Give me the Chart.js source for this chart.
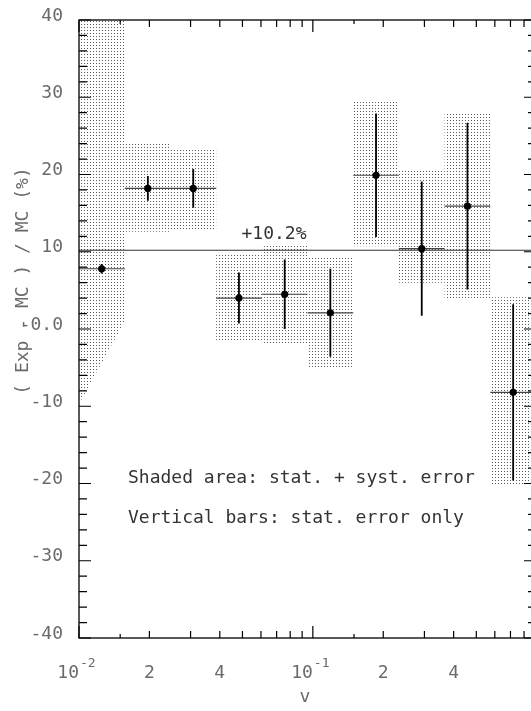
<!DOCTYPE html>
<html><head><meta charset="utf-8">
<style>html,body{margin:0;padding:0;background:#fff;overflow:hidden;width:531px;height:711px}canvas{display:block}</style>
<script src="https://cdn.jsdelivr.net/npm/chart.js@4.4.1/dist/chart.umd.min.js"></script>
</head><body><canvas id="c" width="540" height="711"></canvas>
<script>
// ---- data ----
const binEdges   = [0.01, 0.0157, 0.0246, 0.0386, 0.0605, 0.0949, 0.1488, 0.2333, 0.3659, 0.5739, 0.9];
const binCenters = [0.0125, 0.0197, 0.0308, 0.0483, 0.0758, 0.1188, 0.1863, 0.2922, 0.4582, 0.7187];
const values     = [7.8, 18.2, 18.2, 4.0, 4.5, 2.1, 19.9, 10.4, 15.9, -8.2];
const statErr    = [0.6, 1.6, 2.5, 3.3, 4.5, 5.7, 8.0, 8.7, 10.8, 11.4];
const shadeHighL = [46, 24.1, 23.4, 9.6, 11.0, 9.4, 29.4, 20.7, 28.1, 4.1];
const shadeHighR = [46, 24.1, 23.4, 9.6, 11.0, 9.4, 29.4, 20.7, 28.1, 4.1];
const shadeLowL  = [-9.7, 12.6, 12.7, -1.6, -2.0, -5.0, 10.7, 6.0, 3.8, -20.2];
const shadeLowR  = [1.0, 12.6, 12.7, -1.6, -2.0, -5.0, 10.7, 6.0, 3.8, -20.2];
const meanValue  = 10.2;
const meanLabel  = '+10.2%';
const yTickValues = [40, 30, 20, 10, 0, -10, -20, -30, -40];
const yTickLabels = ['40', '30', '20', '10', '-0.0', '-10', '-20', '-30', '-40'];
const xMajorTicks = [0.01, 0.1];
const xMidTicks   = [0.02,0.03,0.04,0.05,0.06,0.07,0.08,0.09,0.2,0.3,0.4,0.5,0.6,0.7,0.8];
const xSmallTicks = [0.015, 0.15];
const xTickLabels = [[0.01,'10','-2'],[0.02,'2',''],[0.04,'4',''],[0.1,'10','-1'],[0.2,'2',''],[0.4,'4','']];
const xTitle = 'v';
const yTitle = '( Exp - MC ) / MC (%)';
const note1 = 'Shaded area: stat. + syst. error';
const note2 = 'Vertical bars: stat. error only';

// ---- build datasets ----
const pts = binCenters.map((x,i)=>({x, y: values[i]}));
const vBars = [], hBars = [];
binCenters.forEach((x,i)=>{
  vBars.push({x, y: values[i]-statErr[i]}, {x, y: values[i]+statErr[i]}, {x, y: null});
  hBars.push({x: binEdges[i], y: values[i]}, {x: binEdges[i+1], y: values[i]}, {x: binEdges[i+1], y: null});
});
const meanLine = [{x: binEdges[0], y: meanValue}, {x: binEdges[binEdges.length-1], y: meanValue}];

// dotted pattern
const tile = document.createElement('canvas'); tile.width = 3; tile.height = 3;
const tctx = tile.getContext('2d'); tctx.fillStyle = '#5a5a5a'; tctx.fillRect(0,0,1,1);
const ctx0 = document.getElementById('c').getContext('2d');
const pattern = ctx0.createPattern(tile, 'repeat');

const MONO = '"DejaVu Sans Mono", "Liberation Mono", monospace';

const shadePlugin = {
  id: 'shade',
  beforeDatasetsDraw(chart){
    const {ctx, chartArea:a, scales:{x, y}} = chart;
    ctx.save();
    ctx.beginPath(); ctx.rect(a.left, a.top, a.right-a.left, a.bottom-a.top); ctx.clip();
    ctx.fillStyle = pattern;
    for (let i=0;i<values.length;i++){
      const x0 = x.getPixelForValue(binEdges[i]), x1 = x.getPixelForValue(binEdges[i+1]);
      ctx.beginPath();
      ctx.moveTo(x0, y.getPixelForValue(shadeHighL[i]));
      ctx.lineTo(x1, y.getPixelForValue(shadeHighR[i]));
      ctx.lineTo(x1, y.getPixelForValue(shadeLowR[i]));
      ctx.lineTo(x0, y.getPixelForValue(shadeLowL[i]));
      ctx.closePath(); ctx.fill();
    }
    ctx.restore();
  }
};

const axesPlugin = {
  id: 'axes',
  afterDraw(chart){
    const {ctx, chartArea:a, scales:{x, y}} = chart;
    ctx.save();
    ctx.strokeStyle = '#000'; ctx.lineWidth = 1.3;
    ctx.strokeRect(a.left, a.top, a.right-a.left, a.bottom-a.top);
    ctx.lineWidth = 1.2;
    ctx.beginPath();
    for (let v=-40; v<=40; v+=2){
      const py = y.getPixelForValue(v);
      const len = (v % 10 === 0) ? 12 : 8;
      ctx.moveTo(a.left, py); ctx.lineTo(a.left+len, py);
      ctx.moveTo(a.right, py); ctx.lineTo(a.right-len, py);
    }
    const xt = (list, len) => list.forEach(v=>{
      const px = x.getPixelForValue(v);
      ctx.moveTo(px, a.bottom); ctx.lineTo(px, a.bottom-len);
      ctx.moveTo(px, a.top); ctx.lineTo(px, a.top+len);
    });
    xt(xMajorTicks, 12); xt(xMidTicks, 7); xt(xSmallTicks, 4);
    ctx.stroke();

    // y tick labels
    ctx.fillStyle = '#6a6a6a';
    ctx.font = '18px ' + MONO;
    ctx.textAlign = 'right'; ctx.textBaseline = 'alphabetic';
    yTickValues.forEach((v,i)=>{
      ctx.fillText(yTickLabels[i], 63, y.getPixelForValue(v) + 0.5);
    });
    // x tick labels
    xTickLabels.forEach(([v, base, sup])=>{
      const px = x.getPixelForValue(v);
      ctx.font = '18px ' + MONO;
      const wb = ctx.measureText(base).width;
      ctx.font = '13px ' + MONO;
      const ws = sup ? ctx.measureText(sup).width : 0;
      const start = px - (wb + ws)/2 - (sup ? 3 : 0);
      ctx.textAlign = 'left';
      ctx.font = '18px ' + MONO;
      ctx.fillText(base, start, 678);
      if (sup){ ctx.font = '13px ' + MONO; ctx.fillText(sup, start + wb + 1, 667); }
    });
    // axis titles
    ctx.font = '18px ' + MONO;
    ctx.textAlign = 'center';
    ctx.fillText(xTitle, 305, 702);
    ctx.save();
    ctx.translate(28, 281); ctx.rotate(-Math.PI/2);
    ctx.fillText(yTitle, 0, 0);
    ctx.restore();

    // annotations
    ctx.fillStyle = '#333';
    ctx.textAlign = 'center';
    ctx.fillText(meanLabel, 274, y.getPixelForValue(meanValue) - 11);
    ctx.textAlign = 'left';
    ctx.fillText(note1, 128, 483);
    ctx.fillText(note2, 128, 523);
    ctx.restore();
  }
};

new Chart(ctx0, {
  type: 'scatter',
  data: { datasets: [
    { data: pts, showLine: false, pointRadius: 3.6, pointBackgroundColor: '#000', pointBorderColor: '#000', pointBorderWidth: 0 },
    { data: vBars, showLine: true, spanGaps: false, pointRadius: 0, borderColor: '#000', borderWidth: 1.8 },
    { data: hBars, showLine: true, spanGaps: false, pointRadius: 0, borderColor: '#444', borderWidth: 1.2 },
    { data: meanLine, showLine: true, pointRadius: 0, borderColor: '#333', borderWidth: 1.1 }
  ]},
  options: {
    responsive: false, animation: false, devicePixelRatio: 1,
    layout: { padding: { left: 79, right: 4, top: 20, bottom: 73 } },
    plugins: { legend: { display: false }, tooltip: { enabled: false } },
    scales: {
      x: { type: 'logarithmic', min: 0.01, max: 0.9, display: false },
      y: { type: 'linear', min: -40, max: 40, display: false }
    }
  },
  plugins: [shadePlugin, axesPlugin]
});
</script></body></html>
